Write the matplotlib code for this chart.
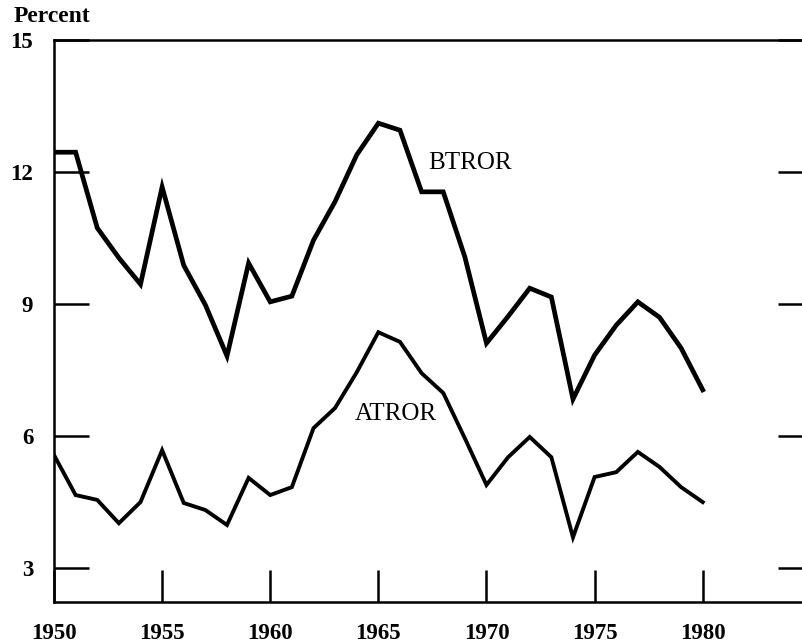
import matplotlib
matplotlib.use("Agg")
import matplotlib.pyplot as plt

years = list(range(1950, 1981))

btror = [12.45, 12.45, 10.73, 10.05, 9.45, 11.66, 9.88, 8.98, 7.82, 9.93,
         9.05, 9.18, 10.45, 11.33, 12.39, 13.11, 12.95, 11.55, 11.55, 10.07,
         8.11, 8.72, 9.36, 9.16, 6.84, 7.84, 8.52, 9.05, 8.70, 8.00, 7.05]

atror = [5.57, 4.66, 4.55, 4.02, 4.50, 5.68, 4.48, 4.32, 3.98, 5.05,
         4.66, 4.84, 6.18, 6.64, 7.45, 8.36, 8.14, 7.43, 6.98, 5.95,
         4.89, 5.52, 5.98, 5.52, 3.70, 5.07, 5.18, 5.64, 5.30, 4.84, 4.50]

y_ticks = [3, 6, 9, 12, 15]
x_ticks = [1950, 1955, 1960, 1965, 1970, 1975, 1980]

plt.rcParams['font.family'] = ['Liberation Serif', 'DejaVu Serif']

W, H = 802, 644
fig = plt.figure(figsize=(W / 100, H / 100), dpi=100)
ax = fig.add_axes([54 / W, 1 - 602 / H, (813 - 54) / W, (602 - 40) / H])

ax.plot(years, btror, color='black', linewidth=3.4, solid_joinstyle='miter')
ax.plot(years, atror, color='black', linewidth=2.8, solid_joinstyle='miter')

ax.set_xlim(1950, 1985.1)
ax.set_ylim(2.23, 15)

ax.set_xticks(x_ticks)
ax.set_yticks(y_ticks)
ax.set_xticklabels([str(x) for x in x_ticks], fontsize=16.5, fontweight='bold')
ax.set_yticklabels([str(y) for y in y_ticks], fontsize=16.5, fontweight='bold')
ax.tick_params(axis='x', direction='in', length=23, width=1.8, pad=15)
ax.tick_params(axis='y', direction='in', length=25, width=1.8, pad=15,
               right=True)
ax.tick_params(axis='y', which='major', labelright=False)

for s in ax.spines.values():
    s.set_linewidth(1.8)
ax.spines['right'].set_visible(False)

ax.text(1967.3, 12.2, 'BTROR', fontsize=18, va='center', ha='left')
ax.text(1963.9, 6.5, 'ATROR', fontsize=18, va='center', ha='left')

fig.text(14 / W, 1 - 17 / H, 'Percent', fontsize=17, fontweight='bold',
         va='center', ha='left')

fig.savefig('out.png', dpi=100)
